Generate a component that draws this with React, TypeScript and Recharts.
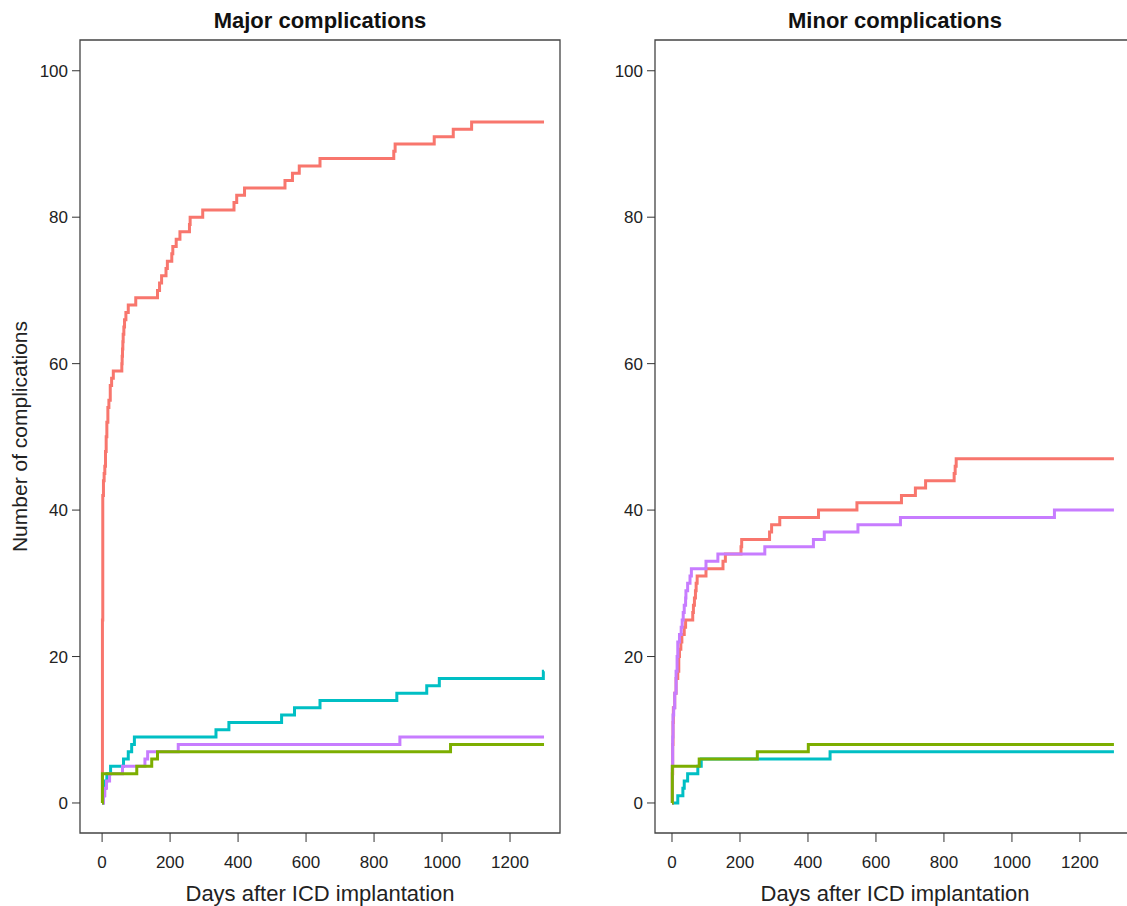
import { LineChart, Line, XAxis, YAxis, ReferenceArea, Label } from "recharts";

const END_DAY = 1300;

// cumulative complications, [day, count]
const majorRed = [
  [0, 0], [1, 25], [2, 42], [4, 44], [6, 45], [8, 46], [10, 48], [12, 50], [14, 52], [17, 54],
  [20, 55], [24, 57], [28, 58], [33, 59], [58, 60], [59, 61], [60, 62], [61, 63], [62, 64],
  [64, 65], [66, 66], [70, 67], [77, 68], [99, 69], [163, 70], [169, 71], [175, 72], [188, 73],
  [192, 74], [205, 75], [208, 76], [218, 77], [229, 78], [257, 79], [259, 80], [296, 81],
  [388, 82], [396, 83], [419, 84], [538, 85], [560, 86], [580, 87], [641, 88], [858, 89],
  [862, 90], [977, 91], [1033, 92], [1087, 93],
];
const majorCyan = [
  [0, 0], [3, 1], [6, 2], [10, 3], [14, 4], [25, 5], [63, 6], [77, 7], [87, 8], [95, 9],
  [335, 10], [373, 11], [528, 12], [566, 13], [641, 14], [867, 15], [955, 16], [992, 17], [1298, 18],
];
const majorPurple = [
  [0, 0], [4, 1], [8, 2], [13, 3], [22, 4], [60, 5], [126, 6], [134, 7], [224, 8], [876, 9],
];
const majorGreen = [
  [0, 0], [1, 4], [102, 5], [146, 6], [163, 7], [1025, 8],
];

const minorRed = [
  [0, 0], [1, 4], [2, 8], [3, 11], [4, 13], [8, 15], [12, 17], [17, 18], [20, 20], [22, 21],
  [26, 22], [29, 23], [36, 24], [40, 25], [61, 26], [63, 27], [66, 28], [69, 29], [71, 30],
  [74, 31], [100, 32], [150, 33], [157, 34], [203, 35], [205, 36], [287, 37], [293, 38],
  [317, 39], [431, 40], [544, 41], [675, 42], [716, 43], [746, 44], [830, 45], [833, 46], [836, 47],
];
const minorPurple = [
  [0, 0], [1, 5], [2, 9], [3, 12], [5, 13], [8, 15], [12, 18], [15, 20], [17, 22], [22, 23],
  [27, 24], [30, 25], [33, 26], [36, 27], [40, 28], [41, 29], [46, 30], [53, 31], [57, 32],
  [100, 33], [135, 34], [273, 35], [416, 36], [448, 37], [547, 38], [672, 39], [1125, 40],
];
const minorCyan = [
  [0, 0], [17, 1], [32, 2], [36, 3], [46, 4], [76, 5], [86, 6], [465, 7],
];
const minorGreen = [
  [0, 0], [1, 5], [80, 6], [251, 7], [401, 8],
];

const xTicks = [0, 200, 400, 600, 800, 1000, 1200];
const yTicks = [0, 20, 40, 60, 80, 100];
const Y_DOMAIN: [number, number] = [-4.1, 104.2];

const RED = "#F8766D";
const CYAN = "#00BFC4";
const PURPLE = "#C77CFF";
const GREEN = "#7CAE00";

const FONT = "'Liberation Sans', Arial, sans-serif";

function toSteps(points: number[][]) {
  const rows = points.map(([day, n]) => ({ day, n }));
  const last = rows[rows.length - 1];
  if (last.day < END_DAY) rows.push({ day: END_DAY, n: last.n });
  return rows;
}

type Series = { points: number[][]; color: string };

interface PanelProps {
  title: string;
  left: number;
  width: number;
  xDomain: [number, number];
  series: Series[];
  yLabel?: string;
}

function Panel({ title, left, width, xDomain, series, yLabel }: PanelProps) {
  const tickStyle = { fontSize: 17, fill: "#222", fontFamily: FONT };
  return (
    <div style={{ position: "absolute", left, top: 0, width, height: 906 }}>
      <div
        style={{
          position: "absolute", left: 80, top: 8, width: 480, textAlign: "center",
          fontFamily: FONT, fontWeight: "bold", fontSize: 22, color: "#111",
        }}
      >
        {title}
      </div>
      <LineChart width={width} height={906} margin={{ top: 40, right: width - 560, bottom: 0, left: 0 }}>
        <XAxis
          type="number"
          dataKey="day"
          domain={xDomain}
          ticks={xTicks}
          allowDataOverflow
          axisLine={false}
          tickSize={9}
          tickMargin={14}
          tickLine={{ stroke: "#333" }}
          tick={tickStyle}
          height={73}
        >
          <Label value="Days after ICD implantation" position="insideBottom" offset={5}
            style={{ fontSize: 22, fill: "#222", fontFamily: FONT }} />
        </XAxis>
        <YAxis
          type="number"
          domain={Y_DOMAIN}
          ticks={yTicks}
          allowDataOverflow
          axisLine={false}
          tickSize={8}
          tickMargin={4}
          tickLine={{ stroke: "#333" }}
          tick={tickStyle}
          width={80}
        >
          {yLabel && (
            <Label value={yLabel} angle={-90} position="insideLeft" offset={20}
              style={{ fontSize: 21, fill: "#222", fontFamily: FONT, textAnchor: "middle" }} />
          )}
        </YAxis>
        <ReferenceArea x1={xDomain[0]} x2={xDomain[1]} y1={Y_DOMAIN[0]} y2={Y_DOMAIN[1]}
          fill="none" stroke="#444" strokeWidth={1.3} ifOverflow="visible" />
        {series.map((s, i) => (
          <Line key={i} data={toSteps(s.points)} dataKey="n" type="stepAfter" stroke={s.color}
            strokeWidth={3} dot={false} isAnimationActive={false} />
        ))}
      </LineChart>
    </div>
  );
}

export default function App() {
  return (
    <div style={{ position: "absolute", left: 0, top: 0, width: 1127, height: 906, overflow: "hidden", background: "#fff" }}>
      <Panel
        title="Major complications"
        left={0}
        width={565}
        xDomain={[-65, 1347]}
        yLabel="Number of complications"
        series={[
          { points: majorRed, color: RED },
          { points: majorCyan, color: CYAN },
          { points: majorPurple, color: PURPLE },
          { points: majorGreen, color: GREEN },
        ]}
      />
      <Panel
        title="Minor complications"
        left={575}
        width={565}
        xDomain={[-50, 1362]}
        series={[
          { points: minorRed, color: RED },
          { points: minorCyan, color: CYAN },
          { points: minorPurple, color: PURPLE },
          { points: minorGreen, color: GREEN },
        ]}
      />
    </div>
  );
}
